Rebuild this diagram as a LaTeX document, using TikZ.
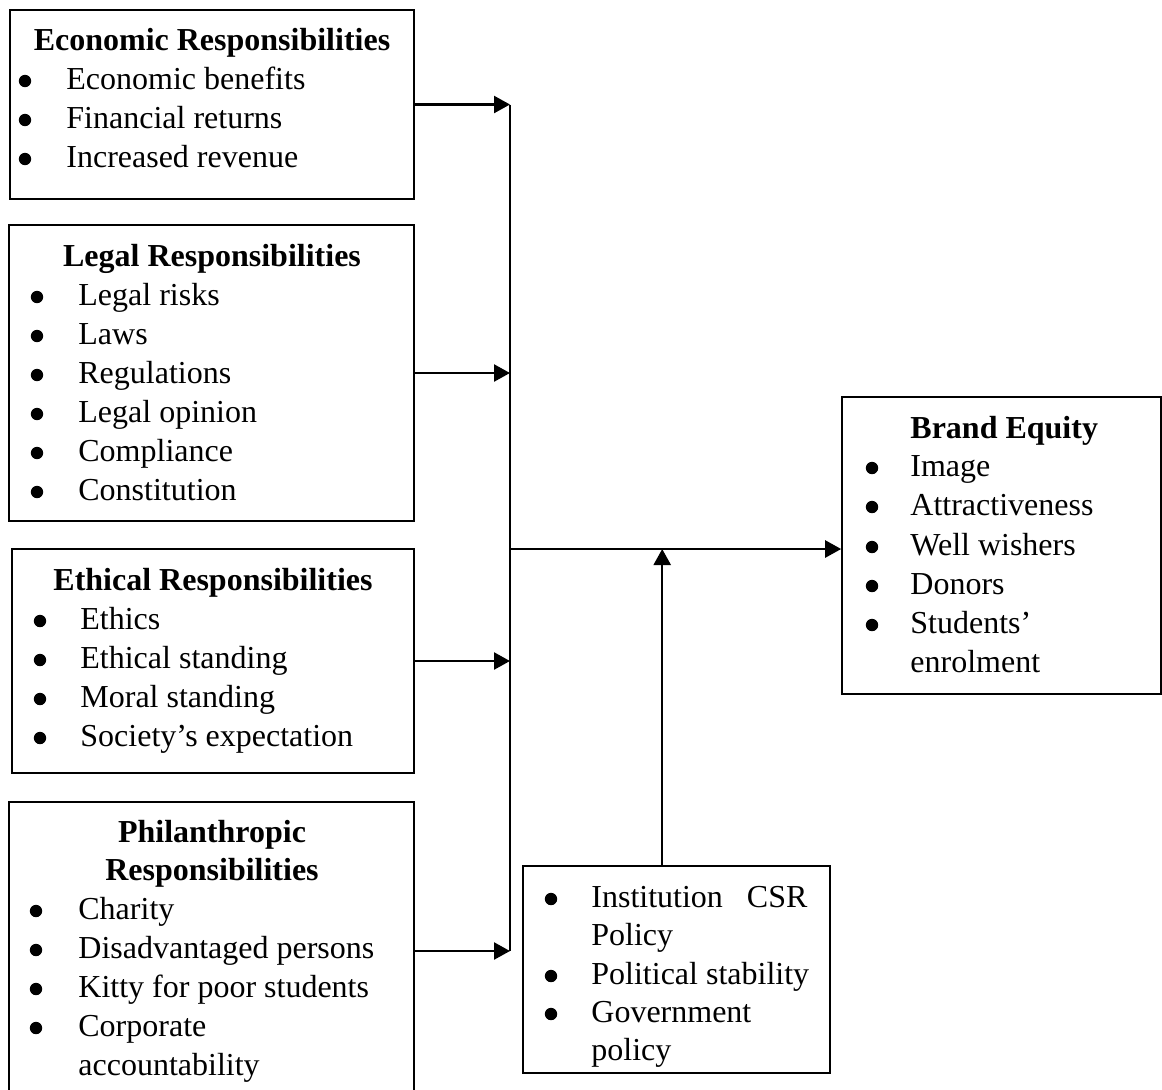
\documentclass[tikz,border=0pt]{standalone}
\usepackage{fontspec}
\setmainfont{Liberation Serif}
\usetikzlibrary{arrows.meta,fit,calc}
\tikzset{
  box/.style={draw=black, line width=0.8pt, inner sep=0pt, rectangle},
  txt/.style={anchor=base west, inner sep=0pt, font=\fontsize{16pt}{19.4pt}\selectfont},
  ttl/.style={anchor=base, inner sep=0pt, font=\fontsize{16pt}{19.4pt}\selectfont\bfseries},
  conn/.style={line width=1.2pt, -{Triangle[length=8pt,width=8.5pt]}},
  bus/.style={line width=1.2pt}
}
\newcommand\myitem[5]{\fill (#2,#4-8) circle[radius=3.1pt]; \node[txt] (#1) at (#3,#4) {#5};}
\begin{document}
\begin{tikzpicture}[x=0.5pt,y=-0.5pt]
\useasboundingbox (0,0) rectangle (1162,1089);
\clip (0,0) rectangle (1162,1089);
% boxes
\node[box, fit={(10,10)(414,199)}] (eco) {};
\node[box, fit={(9,225)(414,521)}] (leg) {};
\node[box, fit={(12,549)(414,773)}] (eth) {};
\node[box, fit={(9,802)(414,1100)}] (phi) {};
\node[box, fit={(842,397)(1161,694)}] (brand) {};
\node[box, fit={(523,866)(830,1073)}] (mod) {};
% Economic
\node[ttl] (eco-t) at (212,50) {Economic Responsibilities};
\myitem{eco-1}{25}{66}{89}{Economic benefits}
\myitem{eco-2}{25}{66}{128}{Financial returns}
\myitem{eco-3}{25}{66}{167}{Increased revenue}
% Legal
\node[ttl] (leg-t) at (212,266) {Legal Responsibilities};
\myitem{leg-1}{37}{78}{305}{Legal risks}
\myitem{leg-2}{37}{78}{344}{Laws}
\myitem{leg-3}{37}{78}{383}{Regulations}
\myitem{leg-4}{37}{78}{422}{Legal opinion}
\myitem{leg-5}{37}{78}{461}{Compliance}
\myitem{leg-6}{37}{78}{500}{Constitution}
% Ethical
\node[ttl] (eth-t) at (213,590) {Ethical Responsibilities};
\myitem{eth-1}{40}{80}{629}{Ethics}
\myitem{eth-2}{40}{80}{668}{Ethical standing}
\myitem{eth-3}{40}{80}{707}{Moral standing}
\myitem{eth-4}{40}{80}{746}{Society’s expectation}
% Philanthropic
\node[ttl] (phi-t1) at (212,842) {Philanthropic};
\node[ttl] (phi-t2) at (212,880) {Responsibilities};
\myitem{phi-1}{36}{78}{919}{Charity}
\myitem{phi-2}{36}{78}{958}{Disadvantaged persons}
\myitem{phi-3}{36}{78}{997}{Kitty for poor students}
\myitem{phi-4}{36}{78}{1036}{Corporate}
\node[txt] (phi-4b) at (78,1075) {accountability};
% Brand Equity
\node[txt, font=\fontsize{16pt}{19.4pt}\selectfont\bfseries] (brand-t) at (910,438) {Brand Equity};
\myitem{br-1}{872}{910}{476}{Image}
\myitem{br-2}{872}{910}{515}{Attractiveness}
\myitem{br-3}{872}{910}{555}{Well wishers}
\myitem{br-4}{872}{910}{594}{Donors}
\myitem{br-5}{872}{910}{633}{Students’}
\node[txt] (br-5b) at (910,672) {enrolment};
% Moderators
\myitem{mod-1}{551}{591}{907}{\makebox[108pt][l]{Institution\hfill CSR}}
\node[txt] (mod-1b) at (591,945) {Policy};
\myitem{mod-2}{551}{591}{984}{Political stability}
\myitem{mod-3}{551}{591}{1022}{Government}
\node[txt] (mod-3b) at (591,1060) {policy};
% connectors
\coordinate (bustop) at (510,104.5);
\coordinate (busbot) at (510,951);
\coordinate (junc) at (510,549);
\draw[bus] (bustop) -- (busbot);
\draw[conn] (eco.east) -- (eco.east -| bustop);
\draw[conn] (leg.east) -- (leg.east -| bustop);
\draw[conn] (eth.east) -- (eth.east -| bustop);
\draw[conn] (phi.east) -- (phi.east -| bustop);
\draw[conn] (junc) -- (junc -| brand.west);
\coordinate (modtop) at ($(mod.north west)+(140,0)$);
\draw[conn] (modtop) -- (modtop |- junc);
\end{tikzpicture}
\end{document}
